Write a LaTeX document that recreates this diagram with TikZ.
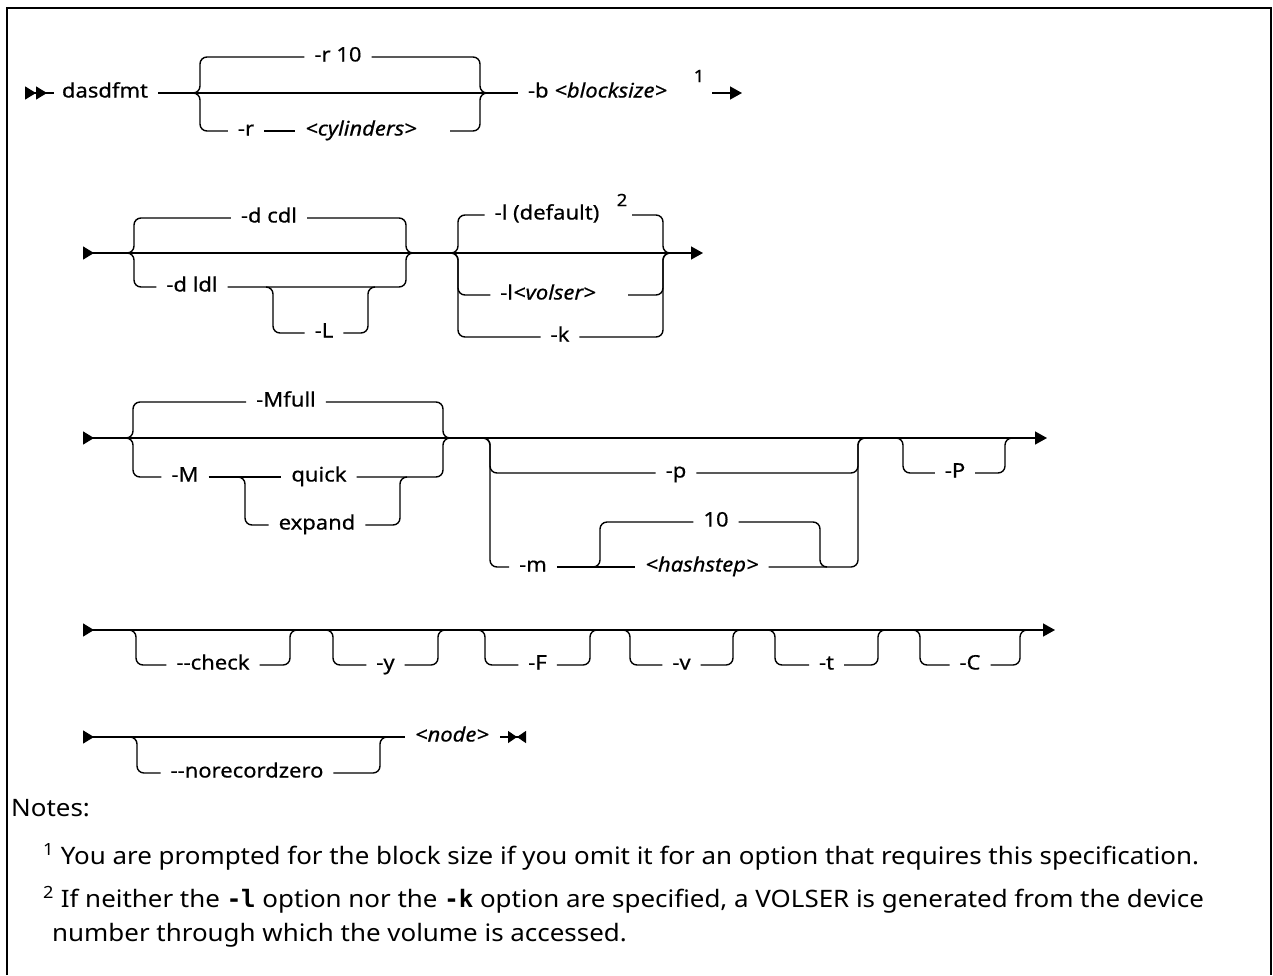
\documentclass[tikz,border=0pt]{standalone}
\usepackage{fontspec}
\setmainfont{Noto Sans}[FakeStretch=1.08]
\setmonofont{DejaVu Sans Mono}
\newfontfamily\railfont{Noto Sans}[FakeStretch=1.1, FakeBold=0.5]
\usetikzlibrary{arrows.meta,positioning}

\begin{document}
\begin{tikzpicture}[x=1pt, y=-1pt,
    rail/.style={line width=1.4pt, rounded corners=7pt},
    lbl/.style={font=\railfont\fontsize{20}{22}\selectfont, inner sep=0pt, outer xsep=10pt, text height=13pt, text depth=4pt},
    sup/.style={font=\railfont\fontsize{17}{20}\selectfont, inner sep=0pt},
    note/.style={font=\fontsize{24}{28}\selectfont, anchor=west, inner sep=0pt},
    go/.style={{Triangle[reversed, length=11pt, width=13pt]}-},
    gostop/.style={{Triangle[reversed, length=11pt, width=13pt]}-{Triangle[length=12pt, width=13pt]}},
    stop/.style={-{Triangle[length=12pt, width=13pt]}}]
    \useasboundingbox (0,0) rectangle (1273,975);

    % Frame
    \draw[line width=2.4pt] (7,975) -- (7,8) -- (1271,8) -- (1271,975);

    % Row 1: dasdfmt -r -b
    \draw[rail, {Triangle[reversed, length=11pt, width=13pt]Triangle[reversed, length=11pt, width=13pt]}-] (25,93) -- (54,93);
    \node[lbl] (cmd) at (105,93) {dasdfmt};
    \node[lbl, anchor=west] (blk) at (518,93) {-b \textit{<blocksize>}};
    \draw[rail] (cmd.east) -- (blk.west);
    \node[lbl] (rdef) at (338,57) {-r 10};
    \draw[rail] (193,93) -| (200,57) -- (rdef.west);
    \draw[rail] (rdef.east) -| (480,93) -- (487,93);
    \node[lbl] (ropt) at (246,131) {-r};
    \node[lbl] (cyl) at (361,131) {\textit{<cylinders>}};
    \draw[rail] (193,93) -| (200,131) -- (ropt.west);
    \draw[rail] (ropt.east) -- (cyl.west);
    \draw[rail] (450,131) -| (480,93) -- (487,93);
    \node[sup] (fn1) at (699,76) {1};
    \draw[rail, stop] (712,93) -- (742,93);

    % Row 2: -d and -l / -k
    \draw[rail, gostop] (83,253) -- (703,253);
    \node[lbl] (dcdl) at (269,218) {-d cdl};
    \draw[rail] (127,253) -| (134,218) -- (dcdl.west);
    \draw[rail] (dcdl.east) -| (406,253) -- (413,253);
    \node[lbl] (dldl) at (192,287) {-d ldl};
    \draw[rail] (127,253) -| (134,287) -- (dldl.west);
    \draw[rail] (dldl.east) -| (406,253) -- (413,253);
    \node[lbl] (dL) at (324,333) {-L};
    \draw[rail] (266,287) -| (273,333) -- (dL.west);
    \draw[rail] (dL.east) -| (368,287) -- (375,287);
    \node[lbl] (ldef) at (547,215) {-l (default)};
    \node[sup] (fn2) at (622,200) {2};
    \draw[rail] (451,253) -| (458,215) -- (ldef.west);
    \draw[rail] (632,215) -| (663,253) -- (670,253);
    \node[lbl] (lvol) at (548,295) {-l\textit{<volser>}};
    \draw[rail] (451,253) -| (458,295) -- (lvol.west);
    \draw[rail] (628,295) -| (663,253) -- (670,253);
    \node[lbl] (kopt) at (560,337) {-k};
    \draw[rail] (451,253) -| (458,337) -- (kopt.west);
    \draw[rail] (kopt.east) -| (663,253) -- (670,253);

    % Row 3: -M, -p / -m, -P
    \draw[rail, gostop] (83,438) -- (1047,438);
    \node[lbl] (mfull) at (286,402) {-Mfull};
    \draw[rail] (126,438) -| (133,402) -- (mfull.west);
    \draw[rail] (mfull.east) -| (443,438) -- (450,438);
    \node[lbl] (mopt) at (185,477) {-M};
    \node[lbl] (quick) at (319,477) {quick};
    \draw[rail] (126,438) -| (133,477) -- (mopt.west);
    \draw[rail] (mopt.east) -- (quick.west);
    \draw[rail] (quick.east) -| (443,438) -- (450,438);
    \node[lbl] (expand) at (317,525) {expand};
    \draw[rail] (238,477) -| (245,525) -- (expand.west);
    \draw[rail] (expand.east) -| (400,477) -- (407,477);
    \node[lbl] (popt) at (676,473) {-p};
    \draw[rail] (483,438) -| (490,473) -- (popt.west);
    \draw[rail] (popt.east) -| (858,438) -- (865,438);
    \node[lbl] (mm) at (533,567) {-m};
    \node[lbl] (hash) at (702,567) {\textit{<hashstep>}};
    \draw[rail] (483,438) -| (490,567) -- (mm.west);
    \draw[rail] (mm.east) -- (hash.west);
    \draw[rail] (hash.east) -| (858,438) -- (865,438);
    \node[lbl] (ten) at (716,522) {10};
    \draw[rail] (593,567) -| (600,522) -- (ten.west);
    \draw[rail] (ten.east) -| (820,567) -- (827,567);
    \node[lbl] (bigP) at (955,473) {-P};
    \draw[rail] (896,438) -| (903,473) -- (bigP.west);
    \draw[rail] (bigP.east) -| (1005,438) -- (1012,438);

    % Row 4: single flags
    \draw[rail, gostop] (83,630) -- (1055,630);
    \foreach \l/\a/\b/\t in {chk/136/290/{-{}-check}, yy/333/438/{-y}, FF/485/590/{-F},
                             vv/630/733/{-v}, tt/775/878/{-t}, CC/920/1020/{-C}} {
      \node[lbl] (\l) at ({(\a+\b)/2},665) {\t};
      \draw[rail] (\a-7,630) -| (\a,665) -- (\l.west);
      \draw[rail] (\l.east) -| (\b,630) -- (\b+7,630);
    }

    % Row 5: --norecordzero <node>
    \node[lbl] (node) at (452,737) {\textit{<node>}};
    \draw[rail, go] (83,737) -- (node.west);
    \node[lbl] (norz) at (247,773) {-{}-norecordzero};
    \draw[rail] (130,737) -| (137,773) -- (norz.west);
    \draw[rail] (norz.east) -| (380,737) -- (387,737);
    \draw[rail, -{Triangle[length=9pt, width=12pt]Triangle[reversed, length=9pt, width=12pt]}] (500,737) -- (526,737);

    % Notes
    \node[note] (notes) at (11,808) {Notes:};
    \node[note] (note1) at (43,857) {\textsuperscript{1} You are prompted for the block size if you omit it for an option that requires this specification.};
    \node[note] (note2) at (43,900) {\textsuperscript{2} If neither the \texttt{\textbf{-l}} option nor the \texttt{\textbf{-k}} option are specified, a VOLSER is generated from the device};
    \node[note] (note3) at (52,935) {number through which the volume is accessed.};
\end{tikzpicture}
\end{document}
